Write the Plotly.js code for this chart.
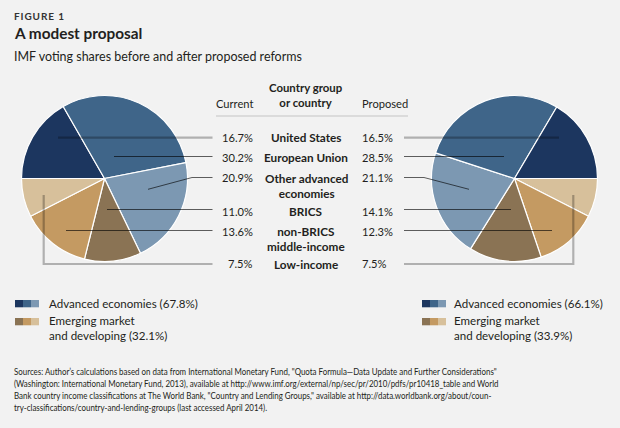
<!DOCTYPE html>
<html><head><meta charset="utf-8">
<script src="https://cdn.plot.ly/plotly-3.0.1.min.js"></script>
<style>html,body{margin:0;padding:0;background:#f2f2f2;} #chart{width:620px;height:428px;}</style>
</head><body><div id="chart"></div>
<script>
// ---------------- data ----------------
const groupLines = [['United States'], ['European Union'], ['Other advanced', 'economies'], ['BRICS'], ['non-BRICS', 'middle-income'], ['Low-income']];
const currentShares = [16.7, 30.2, 20.9, 11.0, 13.6, 7.5];
const proposedShares = [16.5, 28.5, 21.1, 14.1, 12.3, 7.5];
const advancedTotals = [67.8, 66.1];   // current, proposed
const emergingTotals = [32.1, 33.9];   // current, proposed
const sliceColors = ['#1c365f', '#3f6589', '#7c98b2', '#8a7354', '#c49a62', '#d7c09b'];
const footerLines = [
  'Sources: Author\u2019s calculations based on data from International Monetary Fund, "Quota Formula\u2014Data Update and Further Considerations"',
  '(Washington: International Monetary Fund, 2013), available at http://www.imf.org/external/np/sec/pr/2010/pdfs/pr10418_table and World',
  'Bank country income classifications at The World Bank, "Country and Lending Groups," available at http://data.worldbank.org/about/coun-',
  'try-classifications/country-and-lending-groups (last accessed April 2014).'
];

// ---------------- helpers ----------------
const W = 620, H = 428;
const X = p => p / W, Y = p => 1 - p / H;
const MAIN = 'Lato, "Open Sans", sans-serif';
const ctx = document.createElement('canvas').getContext('2d');
function measure(text, weight, family, size) {
  ctx.font = weight + ' ' + size + 'px ' + family;
  return ctx.measureText(text).width;
}
function fit(text, weight, family, target) {
  return 100 * target / measure(text, weight, family, 100);
}
const pct = v => v.toFixed(1) + '%';
const ann = [];
function txt(t, x, y, size, opts) {
  opts = opts || {};
  ann.push({
    text: opts.bold ? '<b>' + t + '</b>' : t,
    x: X(x), y: Y(y), xref: 'paper', yref: 'paper',
    xanchor: opts.anchor || 'left', yanchor: opts.vanchor || 'middle', showarrow: false,
    borderpad: 0, align: opts.anchor === 'center' ? 'center' : 'left',
    font: {family: opts.family || MAIN, size: size, color: opts.color || '#231f20'},
    name: opts.name || ''
  });
}

// ---------------- pies ----------------
const R = 83;
const leftC = [104.5, 178.5], rightC = [514.5, 178.5];
function dom(c) {
  return {x: [X(c[0] - R), X(c[0] + R)], y: [Y(c[1] + R), Y(c[1] - R)]};
}
const labels = groupLines.map(l => l.join(' '));
const traces = [
  {type: 'pie', values: currentShares, labels: labels, sort: false, direction: 'clockwise', rotation: 270,
   marker: {colors: sliceColors, line: {color: '#ffffff', width: 1.2}}, textinfo: 'none', hoverinfo: 'label+value',
   domain: dom(leftC)},
  {type: 'pie', values: proposedShares.slice().reverse(), labels: labels.slice().reverse(), sort: false, direction: 'clockwise', rotation: 90,
   marker: {colors: sliceColors.slice().reverse(), line: {color: '#ffffff', width: 1.2}}, textinfo: 'none', hoverinfo: 'label+value',
   domain: dom(rightC)}
];

// ---------------- leader lines ----------------
const thickSet = [true, false, false, false, false, true];
const leftLeaders = [
  [[58, 137.7], [212.5, 137.7]],
  [[114, 156.5], [212.5, 156.5]],
  [[148, 189.3], [192, 177.5], [212.5, 177.5]],
  [[107, 209.5], [212.5, 209.5]],
  [[66, 230.5], [212.5, 230.5]],
  [[43.7, 195], [43.7, 264], [212.5, 264]]
];
const rightLeaders = [
  [[404, 137.7], [559, 137.7]],
  [[404, 156.5], [504, 156.5]],
  [[404, 177.5], [424, 177.5], [469, 189.3]],
  [[404, 209.5], [511, 209.5]],
  [[404, 230.5], [552, 230.5]],
  [[404, 264], [573.3, 264], [573.3, 195]]
];
const shapes = [];
function leader(pts, thick) {
  const d = pts.map((p, i) => (i ? 'L' : 'M') + X(p[0]) + ',' + Y(p[1])).join(' ');
  shapes.push({type: 'path', path: d, xref: 'paper', yref: 'paper', layer: 'above',
    line: {color: thick ? 'rgba(0,0,0,0.27)' : 'rgba(0,0,0,0.62)', width: thick ? 2.2 : 1}});
}
leftLeaders.forEach((p, i) => leader(p, thickSet[i]));
rightLeaders.forEach((p, i) => leader(p, thickSet[i]));
// header rule
shapes.push({type: 'line', xref: 'paper', yref: 'paper', x0: X(216), x1: X(408), y0: Y(116), y1: Y(116),
  line: {color: '#c4c4c4', width: 1}});

// ---------------- titles ----------------
txt('FIGURE 1', 13, 16, 10, {bold: true, color: '#333333', name: 'fig'});
txt('A modest proposal', 12.5, 33, fit('A modest proposal', 'bold', MAIN, 128), {bold: true});
const subT = 'IMF voting shares before and after proposed reforms';
txt(subT, 13, 56.5, fit(subT, 'normal', MAIN, 289));

// ---------------- table ----------------
const boldSize = fit('European Union', 'bold', MAIN, 84);
const regSize = fit('Current', 'normal', MAIN, 37.5);
txt('Country group<br>or country', 306, 79.5, boldSize * 0.97, {bold: true, anchor: 'center', vanchor: 'top'});
txt('Current', 254, 103.5, regSize, {anchor: 'right'});
txt('Proposed', 360.5, 103.5, regSize, {anchor: 'left'});
const rowY = [137.7, 157.7, 177.7, 211, 231, 264.5];
groupLines.forEach((lines, i) => {
  if (lines.length === 1) {
    txt(lines[0], 306, rowY[i], boldSize, {bold: true, anchor: 'center'});
  } else {
    txt(lines.join('<br>'), 306, rowY[i] - boldSize * 0.68, boldSize, {bold: true, anchor: 'center', vanchor: 'top'});
  }
  txt(pct(currentShares[i]), 254, rowY[i] - (i === 5 ? 1 : 0), regSize, {anchor: 'right'});
  txt(pct(proposedShares[i]), 360.5, rowY[i] - (i === 5 ? 1 : 0), regSize, {anchor: 'left'});
});

// ---------------- legends ----------------
const legSize = fit('Advanced economies (67.8%)', 'normal', MAIN, 149);
function legend(x0, tx, idx) {
  for (let k = 0; k < 3; k++) {
    shapes.push({type: 'rect', xref: 'paper', yref: 'paper', x0: X(x0 + 8 * k), x1: X(x0 + 8 * (k + 1)),
      y0: Y(307.3), y1: Y(300), fillcolor: sliceColors[k], line: {width: 0}});
    shapes.push({type: 'rect', xref: 'paper', yref: 'paper', x0: X(x0 + 8 * k), x1: X(x0 + 8 * (k + 1)),
      y0: Y(325.3), y1: Y(318), fillcolor: sliceColors[k + 3], line: {width: 0}});
  }
  txt('Advanced economies (' + pct(advancedTotals[idx]) + ')', tx, 303.5, legSize);
  txt('Emerging market<br>and developing (' + pct(emergingTotals[idx]) + ')', tx, 313, legSize, {vanchor: 'top'});
}
legend(15, 48.3, 0);
legend(422, 453.3, 1);

// ---------------- footer ----------------
const footSize = 10;
const footScale = 484 / measure(footerLines[0], 'normal', MAIN, footSize);
const footY = [371, 383, 395, 407];
footerLines.forEach((l, i) => txt(l, 12.7, footY[i], footSize, {name: 'foot'}));

Plotly.newPlot('chart', traces, {
  width: W, height: H, margin: {l: 0, r: 0, t: 0, b: 0},
  paper_bgcolor: '#f2f2f2', plot_bgcolor: '#f2f2f2', showlegend: false,
  annotations: ann, shapes: shapes
}, {displayModeBar: false, staticPlot: true}).then(gd => {
  // condense footer text horizontally (the reference uses a condensed face) and letter-space the kicker
  gd.querySelectorAll('.annotation').forEach(g => {
    const idx = +g.getAttribute('data-index');
    const a = ann[idx];
    const t = g.querySelector('text.annotation-text');
    if (!a || !t) return;
    if (a.name === 'foot') {
      const bx = t.getBBox().x;
      t.setAttribute('transform', 'translate(' + bx + ',0) scale(' + footScale + ',1) translate(' + (-bx) + ',0)');
    } else if (a.name === 'fig') {
      const bx = t.getBBox().x;
      t.style.letterSpacing = '0.9px';
      const nb = t.getBBox().x;
      t.setAttribute('transform', 'translate(' + (bx - nb) + ',0)');
    }
  });
});
</script>
</body></html>
